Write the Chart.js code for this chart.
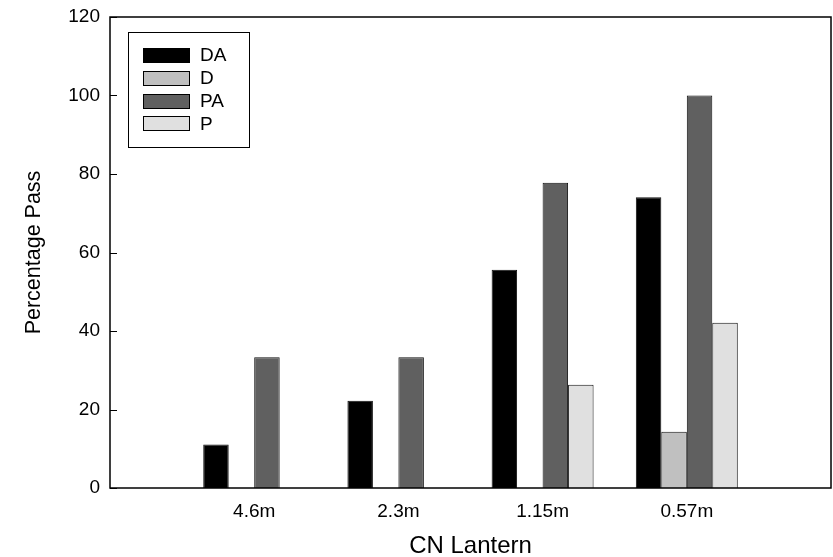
<!DOCTYPE html>
<html>
<head>
<meta charset="utf-8">
<script src="https://cdn.jsdelivr.net/npm/chart.js@4/dist/chart.umd.min.js"></script>
<style>
  html, body { margin: 0; padding: 0; background: #ffffff; }
  #wrap { width: 833px; height: 557px; }
</style>
</head>
<body>
<div id="wrap"><canvas id="c" width="833" height="557"></canvas></div>
<script>
// ---- data ----
const categories = ['', '4.6m', '2.3m', '1.15m', '0.57m', ''];
const seriesNames = ['DA', 'D', 'PA', 'P'];
const valuesDA = [null, 11.1, 22.2, 55.6, 74.1, null];
const valuesD  = [null, 0, 0, 0, 14.3, null];
const valuesPA = [null, 33.3, 33.3, 77.8, 100, null];
const valuesP  = [null, 0, 0, 26.3, 42.1, null];
const yTicks = [0, 20, 40, 60, 80, 100, 120];
const xTitle = 'CN Lantern';
const yTitle = 'Percentage Pass';

const fills = ['#000000', '#c0c0c0', '#606060', '#e0e0e0'];
const FONT = "'Liberation Sans', Arial, sans-serif";

const frameAndTicks = {
  id: 'frameAndTicks',
  afterDatasetsDraw(chart) {
    const {ctx, chartArea: a} = chart;
    const ys = chart.scales.y;
    ctx.save();
    ctx.strokeStyle = '#000';
    ctx.lineWidth = 1.5;
    ctx.strokeRect(a.left, a.top, a.right - a.left, a.bottom - a.top);
    ctx.lineWidth = 1;
    ys.ticks.forEach((t, i) => {
      const py = Math.round(ys.getPixelForTick(i)) + 0.5;
      ctx.beginPath();
      ctx.moveTo(a.left, py);
      ctx.lineTo(a.left + 7, py);
      ctx.stroke();
    });
    ctx.restore();
  }
};

const boxLegend = {
  id: 'boxLegend',
  afterDraw(chart) {
    const {ctx} = chart;
    ctx.save();
    ctx.lineWidth = 1;
    ctx.strokeStyle = '#000';
    ctx.strokeRect(128.5, 32.5, 121, 115);
    ctx.font = '19px ' + FONT;
    ctx.textBaseline = 'middle';
    ctx.textAlign = 'left';
    chart.data.datasets.forEach((ds, i) => {
      const cy = 55 + i * 22.8;
      ctx.fillStyle = ds.backgroundColor;
      ctx.fillRect(143.5, Math.round(cy - 7) + 0.5, 46, 14);
      ctx.strokeStyle = '#000';
      ctx.strokeRect(143.5, Math.round(cy - 7) + 0.5, 46, 14);
      ctx.fillStyle = '#000';
      ctx.fillText(ds.label, 200, cy + 1);
    });
    ctx.restore();
  }
};

const valueSets = [valuesDA, valuesD, valuesPA, valuesP];

function zeroPad(s) {
  s.paddingLeft = 0; s.paddingRight = 0; s.paddingTop = 0; s.paddingBottom = 0;
}

new Chart(document.getElementById('c'), {
  type: 'bar',
  data: {
    labels: categories,
    datasets: seriesNames.map((n, i) => ({
      label: n,
      data: valueSets[i],
      backgroundColor: fills[i],
      borderColor: '#111',
      borderWidth: 1,
      borderSkipped: 'start',
      categoryPercentage: 0.707,
      barPercentage: 1.0
    }))
  },
  options: {
    responsive: false,
    animation: false,
    devicePixelRatio: 1,
    layout: { padding: { left: 0, right: 2, top: 17, bottom: 0 } },
    plugins: {
      legend: { display: false },
      tooltip: { enabled: false }
    },
    scales: {
      x: {
        offset: false,
        grid: { display: false, drawTicks: false },
        border: { display: false },
        ticks: {
          color: '#000',
          font: { family: FONT, size: 19 },
          padding: 12,
          maxRotation: 0,
          autoSkip: false
        },
        title: {
          display: true,
          text: xTitle,
          color: '#000',
          font: { family: FONT, size: 24 },
          padding: { top: 0, bottom: -4 }
        },
        afterFit(s) { s.height = 69; zeroPad(s); }
      },
      y: {
        min: 0,
        max: 120,
        afterBuildTicks(s) { s.ticks = yTicks.map(v => ({ value: v })); },
        grid: { display: false, drawTicks: false },
        border: { display: false },
        ticks: {
          color: '#000',
          font: { family: FONT, size: 19 },
          padding: 10
        },
        title: {
          display: true,
          text: yTitle,
          color: '#000',
          font: { family: FONT, size: 21.5 },
          padding: { top: 21, bottom: 0 }
        },
        afterFit(s) { s.width = 110; zeroPad(s); }
      }
    }
  },
  plugins: [frameAndTicks, boxLegend]
});
</script>
</body>
</html>
